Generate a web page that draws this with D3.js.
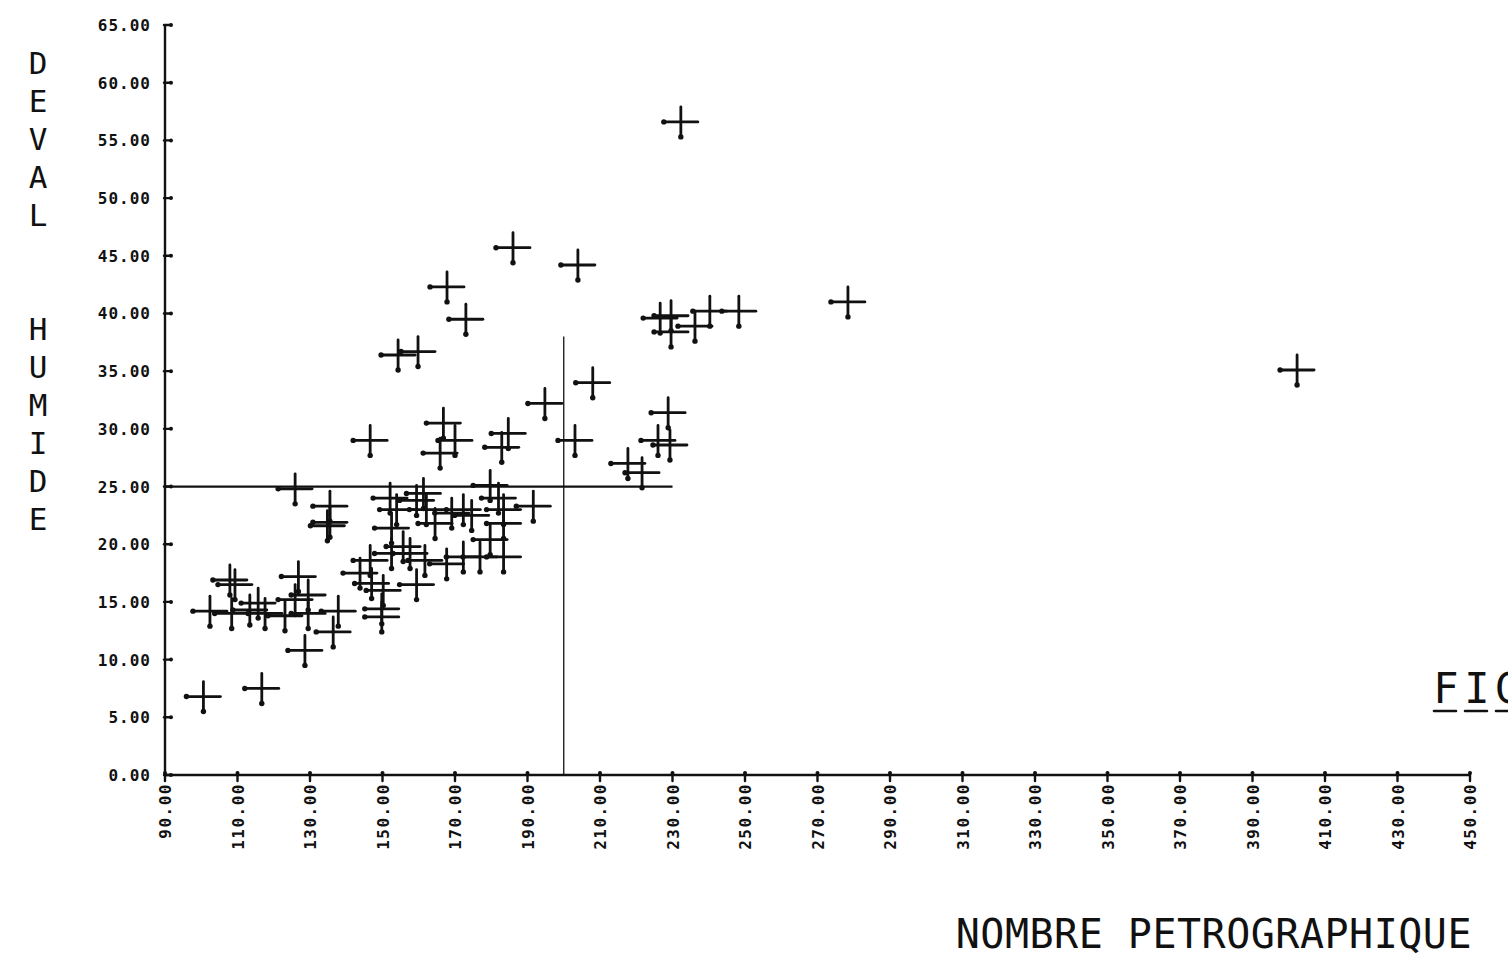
<!DOCTYPE html>
<html>
<head>
<meta charset="utf-8">
<script src="https://cdn.jsdelivr.net/npm/d3@7"></script>
<style>
  html, body { margin: 0; padding: 0; background: #fff; }
  svg { display: block; }
  .plot text { font-family: "DejaVu Sans Mono", monospace; fill: #111; }
</style>
</head>
<body>
<svg id="chart" width="1508" height="957"></svg>
<script>
// Nombre pétrographique vs Deval humide
const xTicks = [90, 110, 130, 150, 170, 190, 210, 230, 250, 270, 290, 310, 330, 350, 370, 390, 410, 430, 450];
const yTicks = [0, 5, 10, 15, 20, 25, 30, 35, 40, 45, 50, 55, 60, 65];

const nombrePetro = [
  232.3, 186.0, 203.9, 167.8, 173.0, 278.4, 402.3, 154.3, 159.8, 194.8, 208.0, 146.6, 203.1,
  226.6, 229.6, 229.6, 236.2, 240.3, 248.3,
  228.8, 226.0, 229.3, 217.7, 221.6,
  166.8, 170.0, 165.9, 184.7, 182.9, 191.6, 179.7, 182.0, 183.4, 183.4, 183.4, 179.7, 176.9,
  172.3, 167.7, 161.7, 155.7, 152.5, 157.6, 159.4, 146.6, 143.8, 147.0, 150.2, 152.1, 153.9,
  152.5, 161.3, 159.4, 162.1, 164.5, 169.1, 172.3, 174.6,
  125.9, 135.5, 135.5, 134.8, 149.8, 149.8, 137.8, 136.4, 128.6, 116.7, 100.6,
  102.4, 107.9, 109.3, 108.4, 113.4, 115.7, 117.6, 123.1, 126.8, 129.5, 125.9, 129.5
];
const devalHumide = [
  56.6, 45.7, 44.2, 42.3, 39.5, 41.0, 35.1, 36.4, 36.7, 32.2, 34.0, 29.0, 29.0,
  39.6, 39.8, 38.4, 38.9, 40.2, 40.2,
  31.4, 29.0, 28.6, 27.0, 26.2,
  30.5, 29.0, 27.9, 29.6, 28.4, 23.3, 25.1, 24.0, 23.0, 21.8, 18.9, 20.4, 18.9,
  18.9, 18.3, 18.6, 19.8, 19.2, 19.2, 16.5, 18.6, 17.5, 16.6, 16.0, 24.0, 23.0,
  21.4, 24.4, 23.8, 23.0, 21.8, 22.7, 23.0, 22.5,
  24.8, 23.3, 21.9, 21.6, 14.4, 13.7, 14.2, 12.4, 10.8, 7.5, 6.8,
  14.2, 16.9, 16.5, 14.0, 14.3, 14.9, 14.0, 13.8, 17.2, 15.6, 15.2, 14.0
];

// Reference lines: Deval = 25 up to NP 230, NP = 200 up to Deval 38
const hLine = { y: 25, x0: 90, x1: 230 };
const vLine = { x: 200, y0: 0, y1: 38 };

// Stacked y title; empty entries are blank slots between the words
const yTitle = ["D", "E", "V", "A", "L", "", "", "H", "U", "M", "I", "D", "E"];
const xTitle = "NOMBRE PETROGRAPHIQUE";
const figTag = ["F", "I", "G"];

const svg = d3.select("#chart");
const g = svg.append("g").attr("class", "plot");

const x = d3.scaleLinear().domain([90, 450]).range([165, 1470]);
const y = d3.scaleLinear().domain([0, 65]).range([775, 25]);

const ink = "#111";

// Axes lines
g.append("line").attr("x1", x(90)).attr("x2", x(90)).attr("y1", y(0)).attr("y2", y(65))
  .attr("stroke", ink).attr("stroke-width", 2.4);
g.append("line").attr("x1", x(90)).attr("x2", x(450)).attr("y1", y(0)).attr("y2", y(0))
  .attr("stroke", ink).attr("stroke-width", 2.4);

// Y ticks and labels
const yAxis = g.append("g");
yAxis.selectAll("line").data(yTicks).join("line")
  .attr("x1", x(90) - 1).attr("x2", x(90) + 6)
  .attr("y1", d => y(d)).attr("y2", d => y(d))
  .attr("stroke", ink).attr("stroke-width", 2.4).attr("stroke-linecap", "round");
yAxis.selectAll("circle").data(yTicks).join("circle")
  .attr("cx", x(90) + 6).attr("cy", d => y(d)).attr("r", 2).attr("fill", ink);
yAxis.selectAll("text").data(yTicks).join("text")
  .attr("x", x(90) - 14).attr("y", d => y(d) + 6)
  .attr("text-anchor", "end")
  .attr("font-size", 16).attr("font-weight", "bold")
  .attr("letter-spacing", 1)
  .text(d => d3.format(".2f")(d));

// X ticks and labels
const xAxis = g.append("g");
xAxis.selectAll("line").data(xTicks).join("line")
  .attr("x1", d => x(d)).attr("x2", d => x(d))
  .attr("y1", y(0) - 2).attr("y2", y(0) + 6)
  .attr("stroke", ink).attr("stroke-width", 2.4).attr("stroke-linecap", "round");
xAxis.selectAll("circle").data(xTicks).join("circle")
  .attr("cx", d => x(d)).attr("cy", y(0) - 2).attr("r", 2).attr("fill", ink);
xAxis.selectAll("text").data(xTicks).join("text")
  .attr("transform", d => `translate(${x(d) + 6},${y(0) + 8}) rotate(-90)`)
  .attr("text-anchor", "end")
  .attr("font-size", 16).attr("font-weight", "bold")
  .attr("letter-spacing", 1.5)
  .text(d => d3.format(".2f")(d));

// Reference lines
g.append("line")
  .attr("x1", x(hLine.x0)).attr("x2", x(hLine.x1))
  .attr("y1", y(hLine.y)).attr("y2", y(hLine.y))
  .attr("stroke", ink).attr("stroke-width", 2.2);
g.append("line")
  .attr("x1", x(vLine.x)).attr("x2", x(vLine.x))
  .attr("y1", y(vLine.y0)).attr("y2", y(vLine.y1))
  .attr("stroke", ink).attr("stroke-width", 1.3);

// Crosses
const pts = nombrePetro.map((v, i) => ({ x: v, y: devalHumide[i] }));
const armX = 17, armY = 15;
const marks = g.append("g").selectAll("g").data(pts).join("g")
  .attr("transform", d => `translate(${x(d.x)},${y(d.y)})`);
marks.append("line").attr("x1", -armX).attr("x2", armX).attr("y1", 0).attr("y2", 0)
  .attr("stroke", ink).attr("stroke-width", 2.8).attr("stroke-linecap", "round");
marks.append("line").attr("x1", 0).attr("x2", 0).attr("y1", -armY).attr("y2", armY)
  .attr("stroke", ink).attr("stroke-width", 2.8).attr("stroke-linecap", "round");
marks.append("circle").attr("cx", -armX).attr("cy", 0).attr("r", 2.7).attr("fill", ink);
marks.append("circle").attr("cx", 0).attr("cy", armY).attr("r", 2.7).attr("fill", ink);

// Y axis title, stacked letters
const letterPitch = 38;
g.append("g").selectAll("text")
  .data(yTitle.map((c, i) => ({ c, i })).filter(d => d.c))
  .join("text")
  .attr("x", 38).attr("y", d => 63 + d.i * letterPitch + 11)
  .attr("text-anchor", "middle")
  .attr("font-size", 31)
  .text(d => d.c);

// X axis title
g.append("text")
  .attr("x", 1472).attr("y", 948)
  .attr("text-anchor", "end")
  .attr("font-size", 40)
  .attr("letter-spacing", 0.5)
  .text(xTitle);

// Figure tag at the right edge, letters with a dashed underline
const fig = g.append("g");
fig.selectAll("text").data(figTag).join("text")
  .attr("x", (d, i) => 1446 + i * 31).attr("y", 703)
  .attr("text-anchor", "middle")
  .attr("font-size", 42)
  .text(d => d);
fig.append("line")
  .attr("x1", 1434).attr("x2", 1508).attr("y1", 711).attr("y2", 711)
  .attr("stroke", ink).attr("stroke-width", 2.6).attr("stroke-dasharray", "22 9")
  .attr("stroke-linecap", "round");
</script>
</body>
</html>
